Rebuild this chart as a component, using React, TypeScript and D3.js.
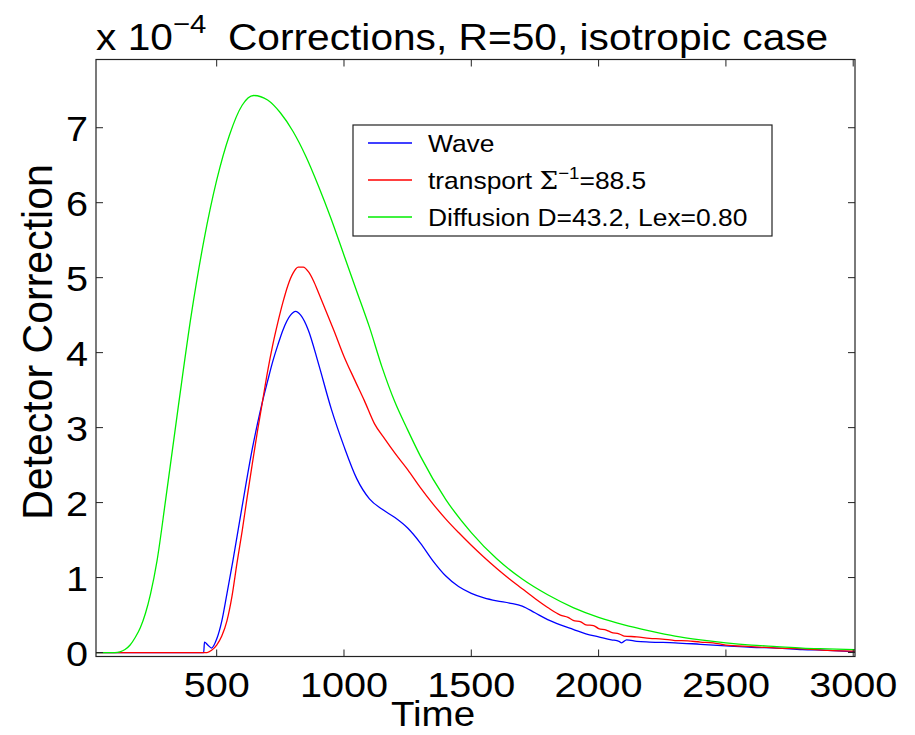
import React from "react";
import * as d3 from "d3";

const xTicks = [500, 1000, 1500, 2000, 2500, 3000];
const yTicks = [0, 1, 2, 3, 4, 5, 6, 7];

const greenT = [26, 100, 120, 140, 160, 180, 200, 220, 240, 266, 300, 350, 400, 450, 500, 550, 600, 645, 700, 750, 800, 850, 900, 950, 1000, 1050, 1100, 1150, 1200, 1250, 1300, 1400, 1500, 1600, 1700, 1800, 1900, 2000, 2100, 2200, 2300, 2400, 2500, 2600, 2700, 2800, 2900, 3007];
const greenV = [0, 0, 0.01, 0.04, 0.1, 0.2, 0.33, 0.52, 0.78, 1.23, 2.05, 3.3, 4.5, 5.5, 6.3, 6.9, 7.3, 7.43, 7.37, 7.2, 6.95, 6.62, 6.22, 5.78, 5.3, 4.82, 4.34, 3.8, 3.34, 2.97, 2.62, 2.04, 1.6, 1.25, 0.98, 0.77, 0.6, 0.47, 0.37, 0.29, 0.22, 0.17, 0.13, 0.1, 0.08, 0.06, 0.05, 0.04];

const redT = [26, 440, 462, 480, 500, 520, 540, 560, 580, 600, 620, 640, 660, 680, 700, 720, 740, 760, 780, 800, 820, 840, 860, 880, 900, 930, 960, 1000, 1040, 1080, 1120, 1160, 1200, 1250, 1300, 1350, 1400, 1450, 1500, 1550, 1600, 1650, 1700, 1750, 1800, 1850, 1880, 1900, 1930, 1950, 1980, 2000, 2030, 2050, 2080, 2100, 2150, 2200, 2250, 2300, 2350, 2400, 2450, 2500, 2600, 2700, 2800, 2900, 3007];
const redV = [0, 0, 0, 0.03, 0.1, 0.22, 0.42, 0.75, 1.2, 1.62, 2.08, 2.52, 2.95, 3.35, 3.75, 4.1, 4.4, 4.67, 4.9, 5.06, 5.14, 5.14, 5.08, 4.96, 4.8, 4.55, 4.3, 3.95, 3.65, 3.36, 3.05, 2.85, 2.66, 2.44, 2.2, 1.98, 1.78, 1.6, 1.43, 1.27, 1.12, 0.98, 0.85, 0.72, 0.6, 0.5, 0.47, 0.43, 0.41, 0.37, 0.36, 0.32, 0.3, 0.27, 0.25, 0.22, 0.21, 0.19, 0.18, 0.16, 0.155, 0.14, 0.13, 0.1, 0.08, 0.06, 0.05, 0.03, 0.02];

const blueT = [26, 449, 452, 465, 480, 500, 520, 540, 564, 600, 640, 660, 680, 700, 720, 740, 760, 790, 810, 830, 860, 900, 950, 1000, 1050, 1100, 1150, 1200, 1250, 1300, 1350, 1400, 1450, 1500, 1550, 1600, 1650, 1700, 1750, 1800, 1850, 1900, 1950, 2000, 2050, 2080, 2090, 2110, 2150, 2200, 2300, 2400, 2500, 2600, 2700, 2800, 2900, 3007];
const blueV = [0, 0, 0.14, 0.1, 0.06, 0.18, 0.42, 0.78, 1.23, 1.95, 2.72, 3.05, 3.35, 3.62, 3.88, 4.1, 4.3, 4.5, 4.55, 4.5, 4.3, 3.85, 3.25, 2.75, 2.32, 2.05, 1.91, 1.8, 1.66, 1.46, 1.22, 1.02, 0.88, 0.79, 0.73, 0.69, 0.66, 0.62, 0.53, 0.44, 0.37, 0.31, 0.25, 0.21, 0.17, 0.15, 0.13, 0.17, 0.15, 0.14, 0.13, 0.11, 0.09, 0.07, 0.06, 0.04, 0.03, 0.01];

const seriesNames = ["Wave", "transport", "Diffusion D=43.2, Lex=0.80"];
const seriesColors = ["#0000ff", "#ff0000", "#00ee00"];

const W = 915, H = 735;
const L = 96, R = 855, T = 59.5, B = 656.5;
const SX = 1.1;
const FONT = "'Liberation Sans', Arial, Helvetica, sans-serif";

function SText({ x, y, size, anchor = "start", sx = SX, children }: any) {
  return (
    <text transform={`translate(${x},${y}) scale(${sx},1)`} fontSize={size} textAnchor={anchor} fontFamily={FONT} fill="#000">
      {children}
    </text>
  );
}

export default function App() {
  const x = d3.scaleLinear().domain([26, 3007]).range([L, R]);
  const y = d3.scaleLinear().domain([-0.053, 7.91]).range([B, T]);
  const line = d3.line<[number, number]>().x(d => x(d[0])).y(d => y(d[1])).curve(d3.curveMonotoneX);
  const series = [
    blueT.map((t, i) => [t, blueV[i]] as [number, number]),
    redT.map((t, i) => [t, redV[i]] as [number, number]),
    greenT.map((t, i) => [t, greenV[i]] as [number, number]),
  ];
  const tl = 7;
  const legRows = [143, 180, 217];
  return (
    <svg width={W} height={H} style={{ position: "absolute", left: 0, top: 0, background: "#fff" }}>
      <rect x={0} y={0} width={W} height={H} fill="#fff" />
      <defs>
        <clipPath id="plot"><rect x={L} y={T} width={R - L} height={B - T} /></clipPath>
      </defs>
      <g clipPath="url(#plot)">
        {series.map((s, i) => (
          <path key={i} d={line(s) || ""} fill="none" stroke={seriesColors[i]} strokeWidth={1.3} />
        ))}
      </g>
      <rect x={L} y={T} width={R - L} height={B - T} fill="none" stroke="#222" strokeWidth={1.2} />
      {xTicks.map(t => (
        <g key={"x" + t}>
          <line x1={x(t)} x2={x(t)} y1={B} y2={B - tl} stroke="#222" />
          <line x1={x(t)} x2={x(t)} y1={T} y2={T + tl} stroke="#222" />
          <SText x={x(t)} y={697} size={36} anchor="middle">{t}</SText>
        </g>
      ))}
      {yTicks.map(t => (
        <g key={"y" + t}>
          <line x1={L} x2={L + tl} y1={y(t)} y2={y(t)} stroke="#222" />
          <line x1={R} x2={R - tl} y1={y(t)} y2={y(t)} stroke="#222" />
          <SText x={88} y={y(t) + 13} size={36} anchor="end">{t}</SText>
        </g>
      ))}
      <text transform={`translate(96,50) scale(1.13,1)`} fontSize={36} fontFamily={FONT} fill="#000">
        x 10<tspan fontSize={26} dy={-17}>−4</tspan>
      </text>
      <SText x={228} y={50} size={36} sx={1.13}>Corrections, R=50, isotropic case</SText>
      <SText x={433} y={726} size={35} anchor="middle">Time</SText>
      <text transform={`translate(52,342) rotate(-90) scale(1.08,1.1)`} fontSize={38} textAnchor="middle" fontFamily={FONT} fill="#000">
        Detector Correction
      </text>
      <rect x={353} y={125} width={419} height={111} fill="#fff" stroke="#222" strokeWidth={1.2} />
      {legRows.map((ry, i) => (
        <line key={"ll" + i} x1={368} x2={412} y1={ry} y2={ry} stroke={seriesColors[i]} strokeWidth={1.3} />
      ))}
      <SText x={428} y={legRows[0] + 9} size={24}>{seriesNames[0]}</SText>
      <text transform={`translate(428,${legRows[1] + 9}) scale(${SX},1)`} fontSize={24} fontFamily={FONT} fill="#000">
        {seriesNames[1]} <tspan fontFamily="'DejaVu Serif', serif">Σ</tspan><tspan fontSize={17} dy={-10}>−1</tspan><tspan dy={10}>=88.5</tspan>
      </text>
      <SText x={428} y={legRows[2] + 9} size={24}>{seriesNames[2]}</SText>
    </svg>
  );
}
